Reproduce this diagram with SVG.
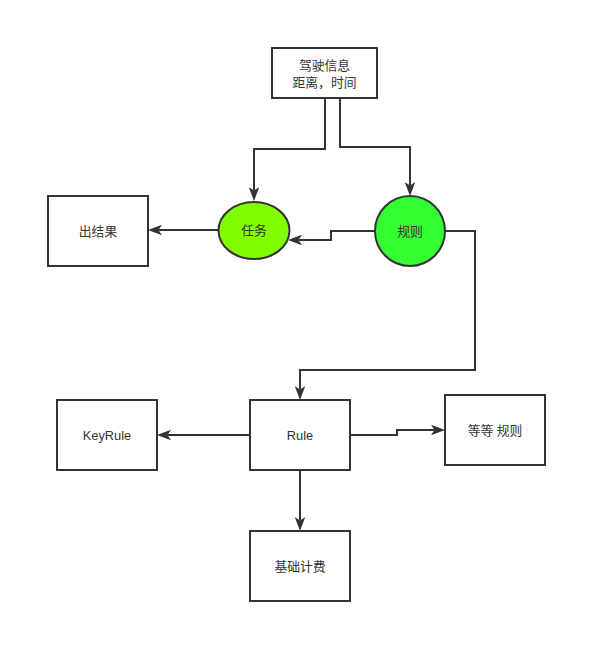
<svg xmlns="http://www.w3.org/2000/svg" width="607" height="663" viewBox="0 0 607 663">
<style>
.box{fill:#fff;stroke:#333;stroke-width:2}
.lbl{font-family:"Liberation Sans","Noto Sans CJK SC",sans-serif;font-size:12.8px;fill:#333;text-anchor:middle;dominant-baseline:central}
.edge{fill:none;stroke:#333;stroke-width:2}
</style>
<defs>
<marker id="arr" viewBox="0 0 14 10.5" refX="3.5" refY="5.25" markerWidth="14" markerHeight="10.5" markerUnits="userSpaceOnUse" orient="auto">
<path d="M0,0 L14,5.25 L0,10.5 L3.5,5.25 z" fill="#333"/>
</marker>
</defs>
<rect width="607" height="663" fill="#fff"/>
<g id="edges">
<path class="edge" marker-end="url(#arr)" d="M325,98 V149 H254 V190.5"/>
<path class="edge" marker-end="url(#arr)" d="M340,98 V147 H410 V185.5"/>
<path class="edge" marker-end="url(#arr)" d="M375,231 H331 V240 H298.5"/>
<path class="edge" marker-end="url(#arr)" d="M445,231 H475 V370 H300 V389.5"/>
<path class="edge" marker-end="url(#arr)" d="M218,230 H158.5"/>
<path class="edge" marker-end="url(#arr)" d="M250,435 H167.5"/>
<path class="edge" marker-end="url(#arr)" d="M350,435 H397 V430 H434.5"/>
<path class="edge" marker-end="url(#arr)" d="M300,470 V520.5"/>
</g>
<g id="info">
<rect class="box" x="272" y="48" width="105" height="50"/>
<text class="lbl" x="324.5" y="65">驾驶信息</text>
<text class="lbl" x="324.5" y="82">距离，时间</text>
</g>
<g id="task">
<ellipse cx="254" cy="230.5" rx="35.5" ry="28.5" fill="#80ff00" stroke="#333" stroke-width="2"/>
<text class="lbl" x="254" y="230.5">任务</text>
</g>
<g id="rule-circle">
<circle cx="410" cy="231" r="35" fill="#33ff33" stroke="#333" stroke-width="2"/>
<text class="lbl" x="410" y="231">规则</text>
</g>
<g id="result">
<rect class="box" x="48" y="196" width="100" height="70"/>
<text class="lbl" x="98" y="231">出结果</text>
</g>
<g id="keyrule">
<rect class="box" x="57" y="400" width="100" height="70"/>
<text class="lbl" x="107" y="435">KeyRule</text>
</g>
<g id="rule">
<rect class="box" x="250" y="400" width="100" height="70"/>
<text class="lbl" x="300" y="435">Rule</text>
</g>
<g id="etc">
<rect class="box" x="445" y="395" width="100" height="70"/>
<text class="lbl" x="495" y="430">等等 规则</text>
</g>
<g id="basic">
<rect class="box" x="250" y="531" width="100" height="70"/>
<text class="lbl" x="300" y="566">基础计费</text>
</g>
</svg>
